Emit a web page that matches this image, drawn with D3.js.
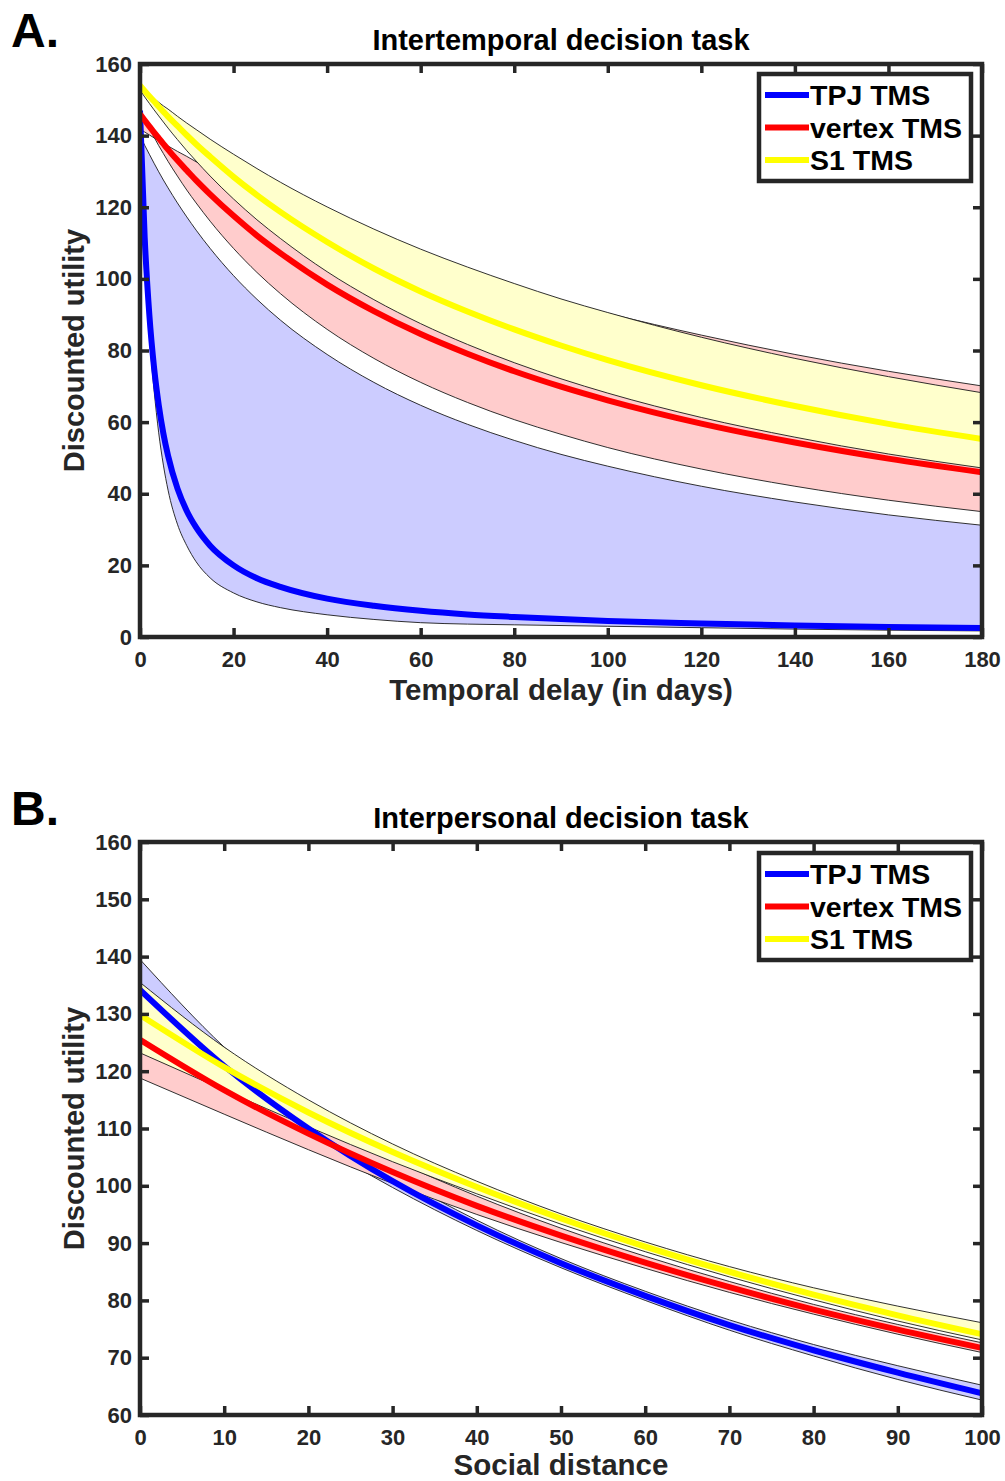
<!DOCTYPE html>
<html>
<head>
<meta charset="utf-8">
<script src="https://cdn.jsdelivr.net/npm/d3@7/dist/d3.min.js"></script>
<style>
  body { margin: 0; background: #fff; }
  svg { display: block; font-family: Arial, 'Liberation Sans', sans-serif; font-weight: bold; }
</style>
</head>
<body>
<svg id="fig"></svg>
<script>
const d3 = window.d3

// ---- panel A: intertemporal task, x = delay in days ----
const delayDays = [0, 1, 2, 3, 4, 5, 6, 8, 10, 12, 15, 20, 25, 30, 40, 50, 60, 70, 80, 90, 100, 120, 140, 160, 180]
const tpjDelay = [147.0, 111.6, 89.9, 75.3, 64.8, 56.8, 50.6, 41.5, 35.2, 30.6, 25.5, 20.0, 16.4, 14.0, 10.7, 8.7, 7.3, 6.3, 5.6, 5.0, 4.5, 3.8, 3.2, 2.8, 2.5]
const tpjDelayLo = [140, 104, 84, 69, 57, 48, 41, 31.5, 25.5, 21, 16.5, 12.3, 9.8, 8.2, 6.2, 4.9, 4.0, 3.6, 3.4, 3.2, 3.0, 2.6, 2.2, 1.9, 1.7]
const tpjDelayHi = [140, 137.3, 134.8, 132.3, 129.9, 127.6, 125.4, 121.2, 117.3, 113.6, 108.5, 100.9, 94.3, 88.5, 78.9, 71.1, 64.7, 59.4, 54.9, 51.0, 47.7, 42.1, 37.7, 34.1, 31.2]
const vertexDelay = [146, 144.3, 142.6, 140.9, 139.3, 137.7, 136.1, 133.1, 130.3, 127.5, 123.6, 117.6, 112.1, 107.2, 98.4, 91.0, 84.6, 79.1, 74.2, 69.9, 66.1, 59.6, 54.3, 49.8, 46.0]
const vertexDelayLo = [147, 144.4, 142.0, 139.6, 137.2, 135.0, 132.8, 128.7, 124.8, 121.2, 116.1, 108.5, 101.8, 95.9, 85.9, 77.8, 71.1, 65.5, 60.7, 56.6, 52.9, 46.9, 42.1, 38.2, 35.0]
const vertexDelayHi = [141.8, 141.0, 140.2, 139.4, 138.6, 137.9, 137.1, 135.6, 134.2, 132.7, 130.7, 127.3, 124.1, 121.1, 115.5, 110.4, 105.7, 101.4, 97.5, 93.8, 90.4, 84.3, 78.9, 74.2, 70.1]
const s1Delay = [154, 152.5, 151.0, 149.6, 148.1, 146.7, 145.3, 142.7, 140.1, 137.6, 134.1, 128.5, 123.4, 118.7, 110.3, 102.9, 96.5, 90.9, 85.9, 81.4, 77.3, 70.3, 64.5, 59.5, 55.3]
const s1DelayLo = [152.7, 150.8, 149.0, 147.2, 145.5, 143.8, 142.1, 138.9, 135.8, 132.9, 128.7, 122.3, 116.5, 111.3, 102.0, 94.2, 87.5, 81.7, 76.6, 72.1, 68.1, 61.3, 55.8, 51.1, 47.2]
const s1DelayHi = [153.5, 152.4, 151.4, 150.4, 149.3, 148.3, 147.4, 145.4, 143.5, 141.7, 139.0, 134.8, 130.8, 127.0, 120.1, 113.9, 108.3, 103.3, 98.7, 94.4, 90.6, 83.7, 77.8, 72.7, 68.2]
const delayTicks = [0, 20, 40, 60, 80, 100, 120, 140, 160, 180]
const utilityTicksA = [0, 20, 40, 60, 80, 100, 120, 140, 160]

// ---- panel B: interpersonal task, x = social distance ----
const socialDist = [0, 10, 20, 30, 40, 50, 60, 70, 80, 90, 100]
const tpjSocial = [134.2, 120.9, 110.0, 100.8, 93.1, 86.5, 80.8, 75.7, 71.3, 67.4, 63.8]
const tpjSocialLo = [129.7, 118.1, 108.3, 99.7, 92.2, 85.7, 80.0, 74.8, 70.3, 66.2, 62.6]
const tpjSocialHi = [139.5, 124.2, 111.9, 102.0, 94.0, 87.3, 81.6, 76.6, 72.3, 68.6, 65.2]
const vertexSocial = [125.5, 116.7, 109.1, 102.4, 96.5, 91.3, 86.6, 82.3, 78.4, 74.9, 71.7]
const vertexSocialLo = [118.8, 112.5, 106.3, 100.4, 95.0, 90.1, 85.6, 81.4, 77.6, 74.1, 70.9]
const vertexSocialHi = [132.0, 121.0, 112.0, 104.6, 98.2, 92.6, 87.7, 83.3, 79.3, 75.8, 72.6]
const s1Social = [129.8, 120.7, 112.8, 105.9, 99.8, 94.3, 89.4, 85.0, 81.0, 77.4, 74.1]
const s1SocialLo = [123.2, 116.7, 110.3, 104.2, 98.6, 93.3, 88.5, 84.1, 80.1, 76.4, 73.1]
const s1SocialHi = [135.5, 124.2, 115.0, 107.3, 100.8, 95.1, 90.2, 85.9, 82.2, 79.0, 76.1]
const socialTicks = [0, 10, 20, 30, 40, 50, 60, 70, 80, 90, 100]
const utilityTicksB = [60, 70, 80, 90, 100, 110, 120, 130, 140, 150, 160]

const legendLabels = ['TPJ TMS', 'vertex TMS', 'S1 TMS']
const lineColors = ['#0000ff', '#ff0000', '#ffff00']
const bandColors = ['#ccccff', '#ffcccc', '#ffffcc']

const W = 1005
const H = 1481
const axisColor = '#262626'
const plotLeft = 140
const plotRight = 982

const svg = d3.select('#fig').attr('width', W).attr('height', H)

function drawPanel (cfg) {
  const g = svg.append('g')
  const x = d3.scaleLinear().domain(cfg.xDomain).range([plotLeft, plotRight])
  const y = d3.scaleLinear().domain(cfg.yDomain).range([cfg.bottom, cfg.top])

  const clipId = 'clip' + cfg.name
  svg.append('clipPath').attr('id', clipId)
    .append('rect')
    .attr('x', plotLeft).attr('y', cfg.top)
    .attr('width', plotRight - plotLeft).attr('height', cfg.bottom - cfg.top)
  const plot = g.append('g').attr('clip-path', `url(#${clipId})`)

  // confidence bands first (opaque, drawn in legend order), then fitted curves on top
  cfg.series.forEach((s, i) => {
    const rows = cfg.xs.map((xv, j) => ({x: xv, lo: s.lo[j], hi: s.hi[j]}))
    const area = d3.area()
      .x(d => x(d.x)).y0(d => y(d.lo)).y1(d => y(d.hi))
      .curve(d3.curveMonotoneX)
    plot.append('path').datum(rows)
      .attr('d', area)
      .attr('fill', bandColors[i])
      .attr('stroke', '#1a1a1a')
      .attr('stroke-width', 0.9)
  })
  cfg.series.forEach((s, i) => {
    const rows = cfg.xs.map((xv, j) => ({x: xv, v: s.mid[j]}))
    const line = d3.line().x(d => x(d.x)).y(d => y(d.v)).curve(d3.curveMonotoneX)
    plot.append('path').datum(rows)
      .attr('d', line)
      .attr('fill', 'none')
      .attr('stroke', lineColors[i])
      .attr('stroke-width', 6)
  })

  // axes: ticks inward on all four sides
  const styleAxis = sel => {
    sel.select('.domain').remove()
    sel.selectAll('.tick line').attr('stroke', axisColor).attr('stroke-width', 3.5)
    sel.selectAll('.tick text')
      .attr('fill', axisColor)
      .style('font-size', '22px')
      .style('font-weight', 'bold')
      .style('font-family', 'Arial, "Liberation Sans", sans-serif')
  }
  g.append('g').attr('transform', `translate(0,${cfg.bottom})`)
    .call(d3.axisBottom(x).tickValues(cfg.xTicks).tickSize(-9).tickPadding(14))
    .call(styleAxis)
  g.append('g').attr('transform', `translate(0,${cfg.top})`)
    .call(d3.axisTop(x).tickValues(cfg.xTicks).tickSize(-9).tickFormat(''))
    .call(styleAxis)
  g.append('g').attr('transform', `translate(${plotLeft},0)`)
    .call(d3.axisLeft(y).tickValues(cfg.yTicks).tickSize(-9).tickPadding(8))
    .call(styleAxis)
  g.append('g').attr('transform', `translate(${plotRight},0)`)
    .call(d3.axisRight(y).tickValues(cfg.yTicks).tickSize(-9).tickFormat(''))
    .call(styleAxis)

  g.append('rect')
    .attr('x', plotLeft).attr('y', cfg.top)
    .attr('width', plotRight - plotLeft).attr('height', cfg.bottom - cfg.top)
    .attr('fill', 'none').attr('stroke', axisColor).attr('stroke-width', 4.5)

  // texts
  g.append('text')
    .attr('x', (plotLeft + plotRight) / 2).attr('y', cfg.top - 14)
    .attr('text-anchor', 'middle').attr('fill', '#000')
    .style('font-size', '29px')
    .text(cfg.title)
  g.append('text')
    .attr('x', (plotLeft + plotRight) / 2).attr('y', cfg.xLabelY)
    .attr('text-anchor', 'middle').attr('fill', axisColor)
    .style('font-size', '29.5px')
    .text(cfg.xLabel)
  g.append('text')
    .attr('transform', `translate(84,${(cfg.top + cfg.bottom) / 2}) rotate(-90)`)
    .attr('text-anchor', 'middle').attr('fill', axisColor)
    .style('font-size', '29px')
    .text('Discounted utility')
  g.append('text')
    .attr('x', 11).attr('y', cfg.letterY)
    .attr('fill', '#000')
    .style('font-size', '48px')
    .text(cfg.letter)

  // legend
  const lg = g.append('g').attr('transform', `translate(759,${cfg.legendTop})`)
  lg.append('rect')
    .attr('width', 212).attr('height', 107)
    .attr('fill', '#fff').attr('stroke', axisColor).attr('stroke-width', 4.5)
  legendLabels.forEach((lab, i) => {
    const ry = 21 + i * 32.5
    lg.append('line')
      .attr('x1', 6).attr('x2', 50).attr('y1', ry).attr('y2', ry)
      .attr('stroke', lineColors[i]).attr('stroke-width', 6)
    lg.append('text')
      .attr('x', 51).attr('y', ry).attr('dy', '0.36em')
      .attr('fill', '#000')
      .style('font-size', '28.5px')
      .text(lab)
  })
}

drawPanel({
  name: 'A',
  letter: 'A.',
  letterY: 47,
  title: 'Intertemporal decision task',
  xLabel: 'Temporal delay (in days)',
  xLabelY: 700,
  top: 64,
  bottom: 637,
  legendTop: 74,
  xDomain: [0, 180],
  yDomain: [0, 160],
  xTicks: delayTicks,
  yTicks: utilityTicksA,
  xs: delayDays,
  series: [
    {mid: tpjDelay, lo: tpjDelayLo, hi: tpjDelayHi},
    {mid: vertexDelay, lo: vertexDelayLo, hi: vertexDelayHi},
    {mid: s1Delay, lo: s1DelayLo, hi: s1DelayHi}
  ]
})

drawPanel({
  name: 'B',
  letter: 'B.',
  letterY: 825,
  title: 'Interpersonal decision task',
  xLabel: 'Social distance',
  xLabelY: 1475,
  top: 842,
  bottom: 1415,
  legendTop: 853,
  xDomain: [0, 100],
  yDomain: [60, 160],
  xTicks: socialTicks,
  yTicks: utilityTicksB,
  xs: socialDist,
  series: [
    {mid: tpjSocial, lo: tpjSocialLo, hi: tpjSocialHi},
    {mid: vertexSocial, lo: vertexSocialLo, hi: vertexSocialHi},
    {mid: s1Social, lo: s1SocialLo, hi: s1SocialHi}
  ]
})
</script>
</body>
</html>
